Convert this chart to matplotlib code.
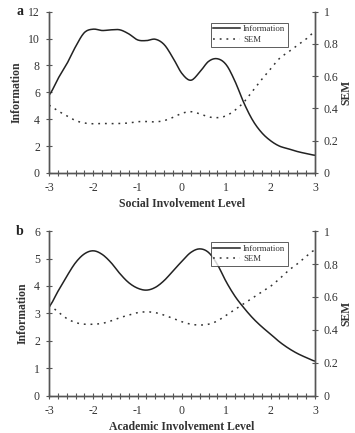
#!/usr/bin/env python3
"""Test information and SEM curves for social and academic involvement."""

import matplotlib
matplotlib.use("Agg")
import matplotlib.pyplot as plt
import numpy as np
from matplotlib.ticker import MultipleLocator, FuncFormatter

plt.rcParams["font.family"] = ["Liberation Serif", "DejaVu Serif"]

theta = [-3.0, -2.8, -2.6, -2.4, -2.2, -2.0, -1.8, -1.6, -1.4, -1.2, -1.0,
         -0.8, -0.6, -0.4, -0.2, 0.0, 0.2, 0.4, 0.6, 0.8, 1.0,
         1.2, 1.4, 1.6, 1.8, 2.0, 2.2, 2.4, 2.6, 2.8, 3.0]

social_info = [5.8, 7.0, 8.1, 9.4, 10.45, 10.7, 10.6, 10.65, 10.65, 10.35, 9.9,
               9.85, 9.95, 9.55, 8.55, 7.4, 6.9, 7.5, 8.3, 8.5, 8.05,
               6.8, 5.2, 3.9, 3.0, 2.4, 2.0, 1.8, 1.6, 1.45, 1.32]
social_sem = [0.42, 0.385, 0.355, 0.325, 0.31, 0.305, 0.307, 0.306, 0.307, 0.31, 0.318,
              0.319, 0.317, 0.325, 0.345, 0.37, 0.38, 0.367, 0.348, 0.343, 0.355,
              0.39, 0.44, 0.51, 0.58, 0.645, 0.71, 0.75, 0.79, 0.83, 0.875]

academic_info = [3.25, 3.8, 4.35, 4.85, 5.17, 5.28, 5.15, 4.85, 4.45, 4.12, 3.92,
                 3.85, 3.95, 4.2, 4.55, 4.9, 5.22, 5.35, 5.22, 4.78, 4.15,
                 3.62, 3.2, 2.83, 2.52, 2.25, 1.97, 1.74, 1.55, 1.4, 1.27]
academic_sem = [0.55, 0.51, 0.47, 0.445, 0.435, 0.435, 0.44, 0.455, 0.475, 0.49, 0.505,
                0.51, 0.505, 0.49, 0.47, 0.45, 0.435, 0.43, 0.435, 0.455, 0.49,
                0.525, 0.56, 0.595, 0.63, 0.665, 0.71, 0.76, 0.80, 0.845, 0.885]

panels = [
    ("a", "Social Involvement Level", social_info, social_sem, 12, 2),
    ("b", "Academic Involvement Level", academic_info, academic_sem, 6, 1),
]

SPINE = "#555555"
TXT = "#333333"


def smooth(x, y, n=300):
    # catmull-rom spline through the read points, only for drawing
    x = np.asarray(x)
    y = np.asarray(y)
    xs = np.linspace(x[0], x[-1], n)
    out = []
    for xi in xs:
        i = min(max(np.searchsorted(x, xi) - 1, 0), len(x) - 2)
        p0 = y[max(i - 1, 0)]
        p1, p2 = y[i], y[i + 1]
        p3 = y[min(i + 2, len(y) - 1)]
        t = (xi - x[i]) / (x[i + 1] - x[i])
        out.append(0.5 * ((2 * p1) + (-p0 + p2) * t
                          + (2 * p0 - 5 * p1 + 4 * p2 - p3) * t ** 2
                          + (-p0 + 3 * p1 - 3 * p2 + p3) * t ** 3))
    return xs, np.array(out)


def fmt(v, _):
    return f"{v:g}"


fig = plt.figure(figsize=(3.55, 4.33), dpi=100)
boxes = [[0.138, 0.6005, 0.749, 0.3725], [0.138, 0.0855, 0.749, 0.381]]

for (tag, xlabel, info, sem, ymax, ystep), box in zip(panels, boxes):
    ax = fig.add_axes(box)
    ax2 = ax.twinx()

    xs, yi = smooth(theta, info)
    _, ys = smooth(theta, sem)
    l1, = ax.plot(xs, yi, color="#222222", lw=1.1, label="Information")
    l2, = ax2.plot(xs, ys, color="#333333", lw=1.1, ls=(0, (1.2, 3.2)), label="SEM")

    ax.set_xlim(-3, 3)
    ax.set_ylim(0, ymax)
    ax2.set_ylim(0, 1)
    ax.xaxis.set_major_locator(MultipleLocator(1))
    ax.xaxis.set_minor_locator(MultipleLocator(0.2))
    ax.yaxis.set_major_locator(MultipleLocator(ystep))
    ax2.yaxis.set_major_locator(MultipleLocator(0.2))
    ax.xaxis.set_major_formatter(FuncFormatter(fmt))
    ax2.yaxis.set_major_formatter(FuncFormatter(fmt))

    for a in (ax, ax2):
        a.spines["top"].set_visible(False)
        for s in a.spines.values():
            s.set_color(SPINE)
            s.set_linewidth(1.0)
        a.tick_params(which="both", direction="inout", length=5, width=0.8,
                      color=SPINE, labelsize=8.5, labelcolor=TXT, pad=4)

    ax.set_xlabel(xlabel, fontsize=8.5, fontweight="bold", color=TXT, labelpad=3)
    ax.set_ylabel("Information", fontsize=8.5, fontweight="bold", color=TXT, labelpad=4)
    ax2.set_ylabel("SEM", fontsize=8.5, fontweight="bold", color=TXT, labelpad=1.5)

    leg = ax.legend(handles=[l1, l2], loc="upper right", bbox_to_anchor=(0.915, 0.96),
                    fontsize=6.3, frameon=True, fancybox=False, handlelength=3,
                    borderpad=0.3, labelspacing=0.3, handletextpad=0.4)
    leg.get_frame().set_edgecolor("#333333")
    leg.get_frame().set_linewidth(0.7)
    for t in leg.get_texts():
        t.set_color(TXT)

    fig.text(0.055, box[1] + box[3], tag, fontsize=10, fontweight="bold",
             ha="center", va="center", color="#222222")

fig.savefig("out.png", dpi=100)
